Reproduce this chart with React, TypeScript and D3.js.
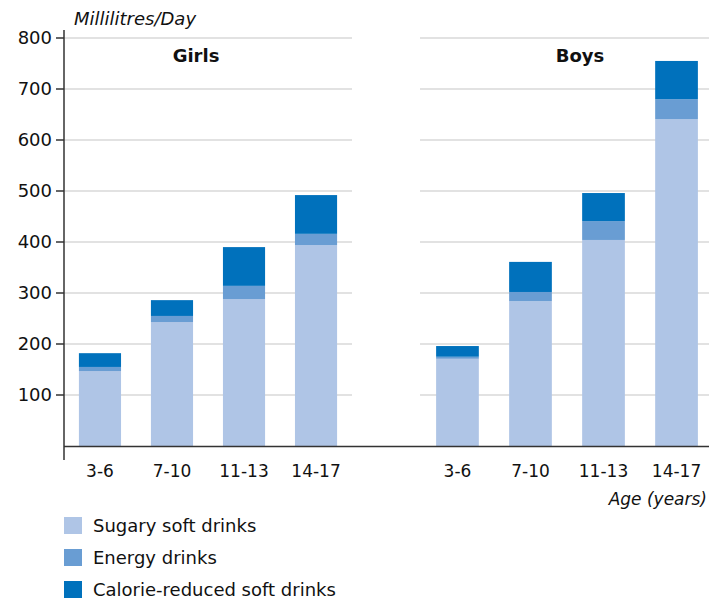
import * as d3 from 'd3';

const AGES = ['3-6', '7-10', '11-13', '14-17'];
const PANELS = ['Girls', 'Boys'];
const SERIES = ['Sugary soft drinks', 'Energy drinks', 'Calorie-reduced soft drinks'];
const COLORS = ['#afc5e6', '#699dd3', '#0071bc'];

// ml/day, per panel, per age group
const SUGARY = [[147, 243, 288, 394], [171, 284, 404, 641]];
const ENERGY = [[8, 12, 26, 22], [4, 18, 37, 39]];
const CAL_REDUCED = [[27, 31, 76, 76], [21, 59, 55, 75]];

const Y_TICKS = [100, 200, 300, 400, 500, 600, 700, 800];

const W = 709;
const H = 600;
const FONT = '"DejaVu Sans", "Open Sans", sans-serif';

export default function App() {
  const y = d3.scaleLinear().domain([0, 800]).range([446, 38]);
  const panelRanges: [number, number][] = [[64, 352], [421, 713]];
  const panelX = panelRanges.map(r =>
    d3.scaleBand<string>().domain(AGES).range(r).paddingInner(0.415).paddingOuter(0.207)
  );
  const gridRanges: [number, number][] = [[64, 352], [420, 709]];

  const stack = d3.stack<number>().keys(['0', '1', '2']).value((i, k) => [SUGARY, ENERGY, CAL_REDUCED][+k][Math.floor(i / 4)][i % 4]);
  const layers = stack(d3.range(8));

  return (
    <svg width={W} height={H} style={{ display: 'block', position: 'absolute', left: 0, top: 0 }} fontFamily={FONT}>
      <rect width={W} height={H} fill="#fff" />
      {/* gridlines */}
      {Y_TICKS.map(t => gridRanges.map((r, pi) => (
        <line key={`g${t}-${pi}`} x1={r[0]} x2={r[1]} y1={y(t)} y2={y(t)} stroke="#d9d9d9" strokeWidth={1.5} />
      )))}
      {/* bars */}
      {layers.map((layer, si) => layer.map((d, i) => {
        const p = Math.floor(i / 4);
        const a = AGES[i % 4];
        const x = panelX[p];
        return (
          <rect key={`b${si}-${i}`} x={x(a)} width={x.bandwidth()} y={y(d[1])} height={y(d[0]) - y(d[1])} fill={COLORS[si]} />
        );
      }))}
      {/* axes */}
      <line x1={64} x2={64} y1={30} y2={460} stroke="#333" strokeWidth={1.5} />
      <line x1={64} x2={709} y1={y(0) + 0.5} y2={y(0) + 0.5} stroke="#333" strokeWidth={1.5} />
      {Y_TICKS.map(t => (
        <g key={`t${t}`}>
          <line x1={56} x2={64} y1={y(t)} y2={y(t)} stroke="#333" strokeWidth={1.5} />
          <text x={52} y={y(t)} dy="0.35em" textAnchor="end" fontSize={18} fill="#111">{t}</text>
        </g>
      ))}
      {panelX.map((x, pi) => AGES.map(a => (
        <text key={`x${pi}${a}`} x={(x(a) ?? 0) + x.bandwidth() / 2} y={477} textAnchor="middle" fontSize={17} fill="#111">{a}</text>
      )))}
      {PANELS.map((p, pi) => (
        <text key={p} x={pi === 0 ? 196 : 580} y={62} textAnchor="middle" fontSize={18} fontWeight="bold" fill="#111">{p}</text>
      ))}
      <text x={74} y={25} fontSize={18} fontStyle="italic" fill="#111">Millilitres/Day</text>
      <text x={707} y={505} textAnchor="end" fontSize={17} fontStyle="italic" fill="#111">Age (years)</text>
      {/* legend */}
      {SERIES.map((s, i) => (
        <g key={s} transform={`translate(64,${517 + i * 32})`}>
          <rect width={18} height={17} fill={COLORS[i]} />
          <text x={29} y={15} fontSize={18} fill="#111">{s}</text>
        </g>
      ))}
    </svg>
  );
}
